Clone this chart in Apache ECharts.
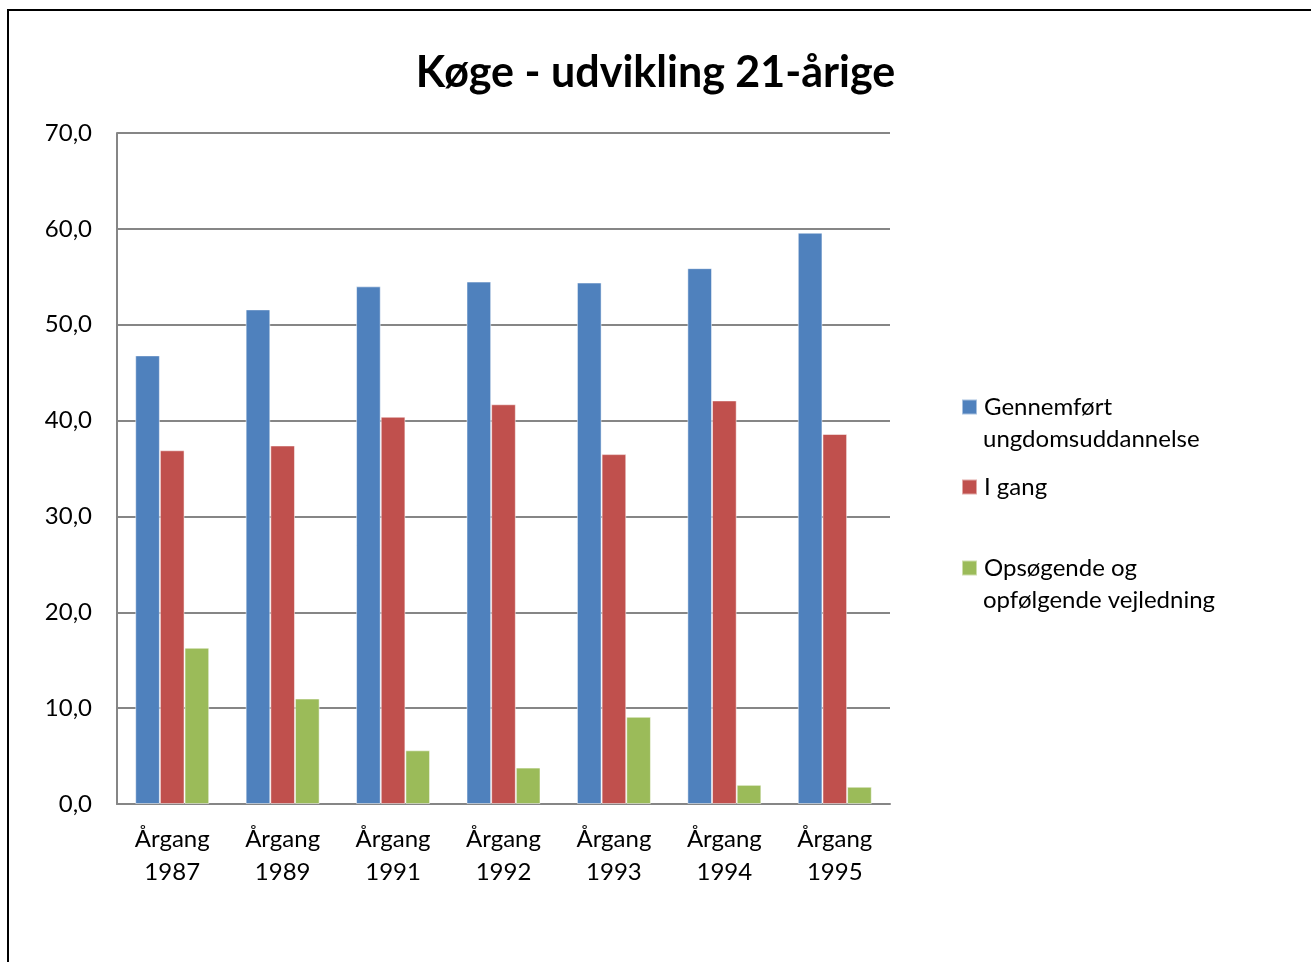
<!DOCTYPE html>
<html>
<head>
<meta charset="utf-8">
<script src="https://cdn.jsdelivr.net/npm/echarts@6/dist/echarts.min.js"></script>
<style>
html, body { margin: 0; padding: 0; background: #fff; }
#main { width: 1311px; height: 962px; }
</style>
</head>
<body>
<div id="main"></div>
<script>
var categories = ['Årgang\n1987', 'Årgang\n1989', 'Årgang\n1991', 'Årgang\n1992', 'Årgang\n1993', 'Årgang\n1994', 'Årgang\n1995'];
var seriesNames = ['Gennemført ungdomsuddannelse', 'I gang', 'Opsøgende og opfølgende vejledning'];
// legend text split the way the reference wraps it
var legendLines = [['Gennemført', 'ungdomsuddannelse'], ['I gang'], ['Opsøgende og', 'opfølgende vejledning']];
var gennemfoert = [46.8, 51.6, 54.0, 54.5, 54.4, 55.9, 59.6];
var iGang = [36.9, 37.4, 40.4, 41.7, 36.5, 42.1, 38.6];
var opsoegende = [16.3, 11.0, 5.6, 3.8, 9.1, 2.0, 1.8];
var colors = ['#4F81BD', '#C0504D', '#9BBB59'];

var font = 'Lato, "Open Sans", sans-serif';
var chart = echarts.init(document.getElementById('main'));

var legendTops = [390, 470, 551];
var legends = [];
var extraText = [];
seriesNames.forEach(function (name, i) {
    legends.push({
        data: [name],
        left: 956,
        top: legendTops[i],
        icon: 'rect',
        itemWidth: 15,
        itemHeight: 15,
        itemGap: 0,
        selectedMode: false,
        formatter: function () { return legendLines[i][0]; },
        textStyle: { fontFamily: font, fontSize: 24, color: '#000', padding: [0, 0, 0, 2] }
    });
    if (legendLines[i][1]) {
        extraText.push({
            type: 'text', left: 983, top: legendTops[i] + 37, silent: true,
            style: { text: legendLines[i][1], font: '24px ' + font, fill: '#000' }
        });
    }
});

chart.setOption({
    animation: false,
    color: colors,
    title: {
        text: 'Køge - udvikling 21-årige',
        left: 'center',
        top: 52,
        padding: [0, 0, 0, 0],
        textStyle: { fontFamily: font, fontSize: 43, fontWeight: 'bold', color: '#000' }
    },
    graphic: [{
        type: 'rect',
        shape: { x: 8, y: 10, width: 1400, height: 1000 },
        style: { fill: 'none', stroke: '#000', lineWidth: 2 },
        silent: true
    }].concat(extraText),
    legend: legends,
    grid: { left: 117, right: 421, top: 133, bottom: 158 },
    xAxis: {
        type: 'category',
        data: categories,
        axisLine: { lineStyle: { color: '#868686', width: 2 } },
        axisTick: { show: false },
        axisLabel: { fontFamily: font, fontSize: 24, color: '#000', lineHeight: 33, margin: 19 }
    },
    yAxis: {
        type: 'value',
        min: 0,
        max: 70,
        interval: 10,
        axisLine: { show: true, lineStyle: { color: '#868686', width: 2 } },
        axisTick: { show: false },
        splitLine: { lineStyle: { color: '#868686', width: 2 } },
        axisLabel: {
            fontFamily: font, fontSize: 24, color: '#000', margin: 25,
            formatter: function (v) { return v.toFixed(1).replace('.', ','); }
        }
    },
    series: [
        { name: seriesNames[0], type: 'bar', data: gennemfoert, barGap: '0%', barCategoryGap: '33%',
          itemStyle: { borderColor: 'rgba(255,255,255,0.5)', borderWidth: 1 } },
        { name: seriesNames[1], type: 'bar', data: iGang,
          itemStyle: { borderColor: 'rgba(255,255,255,0.5)', borderWidth: 1 } },
        { name: seriesNames[2], type: 'bar', data: opsoegende,
          itemStyle: { borderColor: 'rgba(255,255,255,0.5)', borderWidth: 1 } }
    ]
});
</script>
</body>
</html>
